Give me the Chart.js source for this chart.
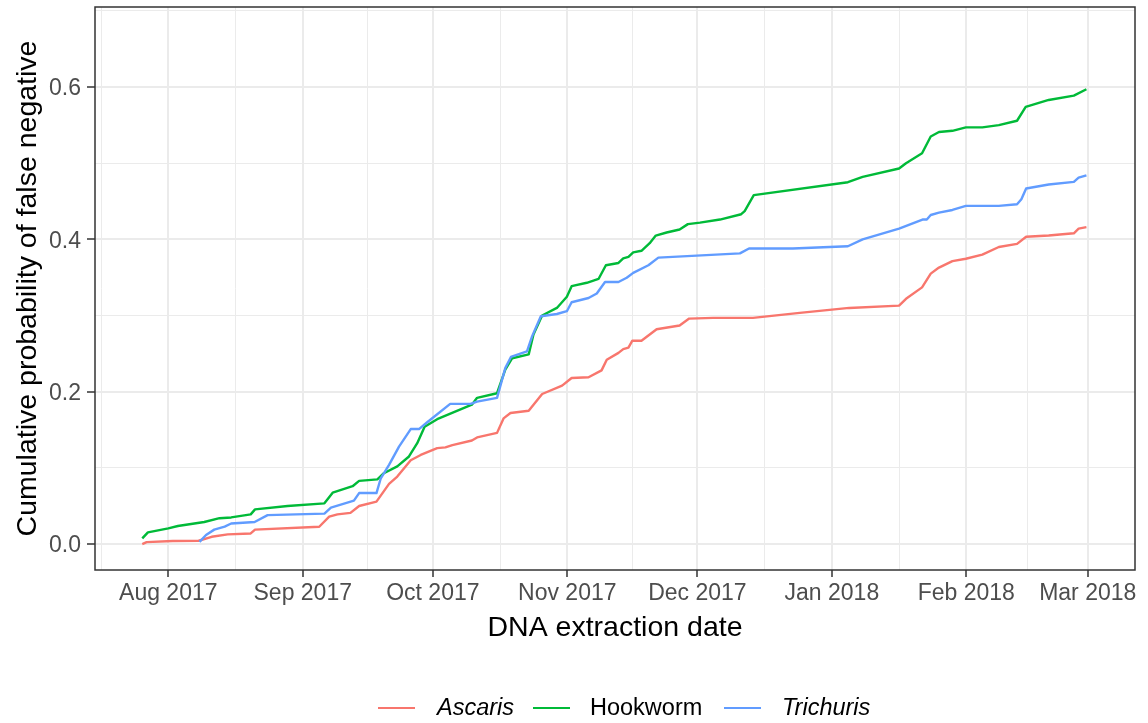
<!DOCTYPE html>
<html>
<head>
<meta charset="utf-8">
<script src="https://cdn.jsdelivr.net/npm/chart.js@4"></script>
<style>
  html, body { margin: 0; padding: 0; background: #ffffff; }
  #wrap { position: relative; width: 1148px; height: 723px; overflow: hidden; font-family: "Liberation Sans", Arial, Helvetica, sans-serif; }
  #c { position: absolute; left: 0; top: 0; }
  .lg-key { position: absolute; top: 707px; width: 37px; height: 0; border-top: 2.4px solid; }
  .lg-txt { position: absolute; top: 692px; font-size: 23.5px; line-height: 30px; color: #000; white-space: nowrap; }
</style>
</head>
<body>
<div id="wrap">
  <canvas id="c" width="1148" height="723"></canvas>
  <div class="lg-key" style="left:378px;border-color:#F8766D"></div>
  <div class="lg-txt" id="lt0" style="left:437px;font-style:italic"></div>
  <div class="lg-key" style="left:533px;border-color:#00BA38"></div>
  <div class="lg-txt" id="lt1" style="left:590px"></div>
  <div class="lg-key" style="left:724px;border-color:#619CFF"></div>
  <div class="lg-txt" id="lt2" style="left:782px;font-style:italic"></div>
</div>
<script>
// x values: days since 1 Aug 2017
const seriesNames = ["Ascaris", "Hookworm", "Trichuris"];
const seriesColors = ["#F8766D", "#00BA38", "#619CFF"];

const ascarisDays = [-6, -5, 1, 7, 10, 13.7, 19, 20, 34.8, 37.1, 39, 42, 44, 48, 50.9, 52.8, 55.9, 58.2, 62, 63.9, 65.5, 70, 71.2, 75.8, 77.3, 78.9, 83.1, 86.2, 90.8, 93, 96.9, 99.9, 101.1, 103.8, 104.9, 106.1, 107, 109.1, 112.6, 117.9, 120.1, 125.6, 134.8, 145.6, 157, 168.5, 170.1, 173.8, 175.8, 177.7, 180.8, 183.9, 187.7, 191.5, 195.7, 197.8, 203, 208.8, 209.9, 211.7];
const ascarisValues = [0, 0.0026, 0.004, 0.0044, 0.0096, 0.0127, 0.014, 0.019, 0.0228, 0.036, 0.039, 0.041, 0.05, 0.0557, 0.079, 0.0886, 0.11, 0.117, 0.126, 0.127, 0.130, 0.136, 0.14, 0.146, 0.165, 0.172, 0.175, 0.197, 0.208, 0.218, 0.219, 0.228, 0.242, 0.251, 0.256, 0.258, 0.267, 0.267, 0.282, 0.287, 0.296, 0.297, 0.297, 0.3035, 0.31, 0.313, 0.322, 0.337, 0.355, 0.363, 0.3715, 0.3746, 0.380, 0.39, 0.394, 0.4035, 0.405, 0.408, 0.414, 0.416];

const hookwormDays = [-6, -4.7, 0, 2.2, 8.3, 11.8, 14.5, 19, 20, 27.5, 36, 37.9, 42.5, 44, 48.2, 49.7, 52.8, 55.5, 57.4, 59.1, 62, 70, 71.2, 75.8, 77.7, 79.3, 83.1, 84.2, 86.2, 89.6, 91.9, 93, 96.5, 99.2, 100.9, 103.8, 104.9, 106.1, 107.2, 109.1, 111, 112.4, 114.9, 117.9, 119.8, 122.6, 127.2, 132.1, 132.9, 135, 156.7, 160.1, 168.5, 170.1, 173.8, 175.8, 177.7, 180.8, 183.9, 187.7, 191.5, 195.7, 197.7, 203, 208.8, 211.7];
const hookwormValues = [0.0075, 0.0154, 0.0207, 0.0237, 0.029, 0.034, 0.035, 0.039, 0.0456, 0.05, 0.0535, 0.0675, 0.076, 0.083, 0.085, 0.093, 0.102, 0.115, 0.1325, 0.154, 0.164, 0.183, 0.192, 0.198, 0.229, 0.244, 0.249, 0.275, 0.300, 0.310, 0.3246, 0.3386, 0.343, 0.348, 0.366, 0.369, 0.375, 0.377, 0.383, 0.385, 0.395, 0.405, 0.409, 0.413, 0.42, 0.422, 0.426, 0.433, 0.437, 0.458, 0.475, 0.482, 0.493, 0.5, 0.513, 0.535, 0.541, 0.5425, 0.547, 0.547, 0.55, 0.5557, 0.574, 0.583, 0.5886, 0.597];

const trichurisDays = [7.2, 8.7, 10.6, 13, 14.5, 19.9, 22.9, 36, 37.5, 42.8, 44, 48, 49, 50.9, 53.2, 55.9, 57.8, 59.7, 65, 69.7, 71.2, 75.8, 77.7, 79, 82.7, 83.9, 85.9, 89.6, 91.9, 93, 96.9, 98.8, 100.7, 103.8, 105.7, 107.2, 110.7, 113, 131.8, 133.9, 144, 156.7, 160.1, 168.5, 173.9, 174.9, 175.8, 177.7, 180.8, 183.9, 191.5, 195.7, 196.7, 197.8, 203, 208.8, 209.9, 211.7];
const trichurisValues = [0.003, 0.012, 0.019, 0.023, 0.027, 0.029, 0.038, 0.040, 0.048, 0.057, 0.067, 0.067, 0.0864, 0.104, 0.128, 0.151, 0.151, 0.16, 0.184, 0.184, 0.187, 0.192, 0.231, 0.2456, 0.253, 0.273, 0.299, 0.302, 0.3057, 0.3175, 0.323, 0.329, 0.344, 0.344, 0.3496, 0.356, 0.366, 0.376, 0.3816, 0.388, 0.388, 0.391, 0.4, 0.414, 0.426, 0.426, 0.432, 0.435, 0.4386, 0.444, 0.444, 0.446, 0.4526, 0.4667, 0.472, 0.4754, 0.481, 0.484];

const xTickDays = [0, 31, 61, 92, 122, 153, 184, 212];
const xTickLabels = ["Aug 2017", "Sep 2017", "Oct 2017", "Nov 2017", "Dec 2017", "Jan 2018", "Feb 2018", "Mar 2018"];
const xMinorDays = [-15.5, 15.5, 46, 76.5, 107, 137.5, 168.5, 198];
const xRange = [-16.9, 222.9];

const yTickValues = [0, 0.2, 0.4, 0.6];
const yTickLabels = ["0.0", "0.2", "0.4", "0.6"];
const yMinorValues = [0.1, 0.3, 0.5, 0.7];
const yRange = [-0.034, 0.705];

const xTitle = "DNA extraction date";
const yTitle = "Cumulative probability of false negative";

document.getElementById('lt0').textContent = seriesNames[0];
document.getElementById('lt1').textContent = seriesNames[1];
document.getElementById('lt2').textContent = seriesNames[2];

const FONT = '"Liberation Sans", Arial, Helvetica, sans-serif';

function pts(days, vals) { return days.map((d, i) => ({ x: d, y: vals[i] })); }
function buildTicks(major, minor) {
  return major.map(v => ({ value: v, minor: false }))
    .concat(minor.map(v => ({ value: v, minor: true })))
    .sort((a, b) => a.value - b.value);
}
function labelFor(v, vals, labels) {
  for (let i = 0; i < vals.length; i++) if (Math.abs(vals[i] - v) < 1e-9) return labels[i];
  return '';
}
const isMinor = ctx => ctx.tick && ctx.tick.minor;

const panelBorder = {
  id: 'panelBorder',
  afterDraw(chart) {
    const a = chart.chartArea, c = chart.ctx;
    c.save();
    c.strokeStyle = '#333333';
    c.lineWidth = 1.5;
    c.strokeRect(a.left, a.top, a.right - a.left, a.bottom - a.top);
    c.restore();
  }
};

const common = { pointRadius: 0, borderWidth: 2.4, tension: 0, fill: false, borderJoinStyle: 'round', borderCapStyle: 'butt' };

new Chart(document.getElementById('c'), {
  type: 'line',
  data: {
    datasets: [
      Object.assign({ label: seriesNames[0], data: pts(ascarisDays, ascarisValues), borderColor: seriesColors[0], order: 3 }, common),
      Object.assign({ label: seriesNames[1], data: pts(hookwormDays, hookwormValues), borderColor: seriesColors[1], order: 2 }, common),
      Object.assign({ label: seriesNames[2], data: pts(trichurisDays, trichurisValues), borderColor: seriesColors[2], order: 1 }, common)
    ]
  },
  options: {
    responsive: false,
    animation: false,
    devicePixelRatio: 1,
    layout: { padding: { left: 0, right: 13, top: 7, bottom: 78 } },
    plugins: { legend: { display: false }, tooltip: { enabled: false } },
    scales: {
      x: {
        type: 'linear',
        min: xRange[0], max: xRange[1],
        afterBuildTicks: s => { s.ticks = buildTicks(xTickDays, xMinorDays); },
        afterFit: s => { s.height = 75; s.paddingLeft = 0; s.paddingRight = 0; },
        ticks: {
          autoSkip: false, maxRotation: 0, minRotation: 0, padding: 3,
          color: '#4D4D4D', font: { family: FONT, size: 23 },
          callback: v => labelFor(v, xTickDays, xTickLabels)
        },
        grid: {
          color: '#EBEBEB',
          lineWidth: ctx => isMinor(ctx) ? 1 : 2,
          tickColor: ctx => isMinor(ctx) ? 'rgba(0,0,0,0)' : '#333333',
          tickLength: 7, tickWidth: 1.5
        },
        border: { display: false },
        title: { display: true, text: xTitle, color: '#000000', font: { family: FONT, size: 28.5 }, padding: { top: 0, bottom: 0 } }
      },
      y: {
        type: 'linear',
        min: yRange[0], max: yRange[1],
        afterBuildTicks: s => { s.ticks = buildTicks(yTickValues, yMinorValues); },
        afterFit: s => { s.width = 95; s.paddingTop = 0; s.paddingBottom = 0; },
        ticks: {
          autoSkip: false, padding: 6, labelOffset: 2,
          color: '#4D4D4D', font: { family: FONT, size: 23 },
          callback: v => labelFor(v, yTickValues, yTickLabels)
        },
        grid: {
          color: '#EBEBEB',
          lineWidth: ctx => isMinor(ctx) ? 1 : 2,
          tickColor: ctx => isMinor(ctx) ? 'rgba(0,0,0,0)' : '#333333',
          tickLength: 8, tickWidth: 1.5
        },
        border: { display: false },
        title: { display: true, text: yTitle, color: '#000000', font: { family: FONT, size: 28.5 }, padding: { top: 11, bottom: 0 } }
      }
    }
  },
  plugins: [panelBorder]
});
</script>
</body>
</html>
